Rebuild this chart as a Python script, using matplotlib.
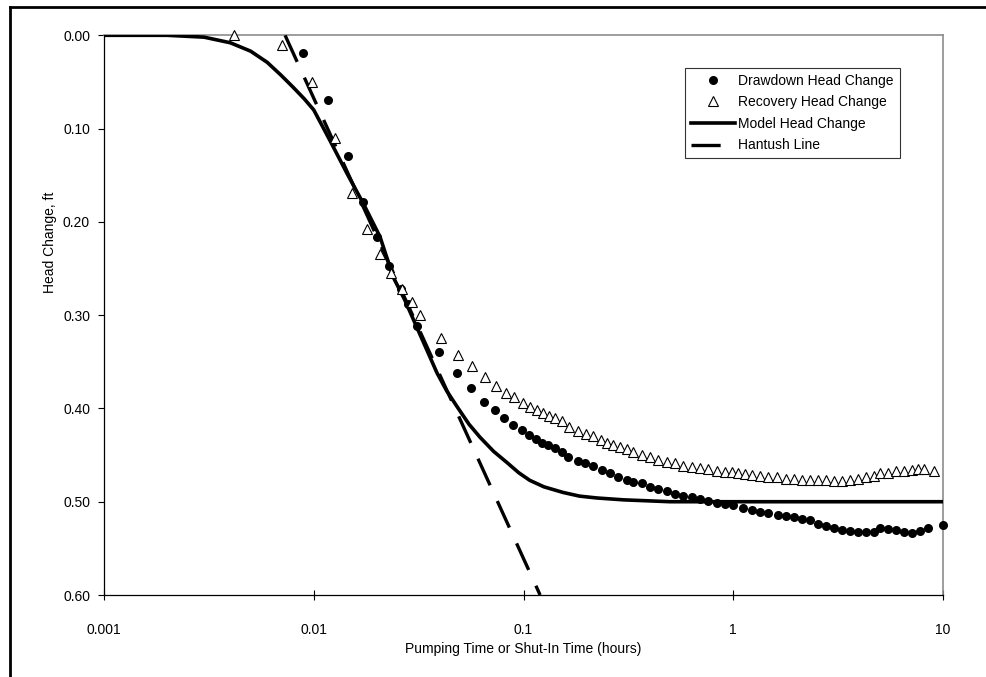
import matplotlib
matplotlib.use("Agg")
import matplotlib.pyplot as plt
from matplotlib.lines import Line2D
import numpy as np

plt.rcParams['font.family'] = ['Liberation Sans', 'DejaVu Sans']
plt.rcParams['lines.scale_dashes'] = False

# Drawdown head change (pumping time, hours)
dd_t = [0.00889, 0.01169, 0.01457, 0.01717, 0.02003, 0.02285, 0.02606, 0.02813, 0.03106, 0.03955,
        0.04819, 0.05620, 0.06482, 0.07311, 0.08072, 0.08913, 0.09835, 0.1062, 0.1147, 0.1225,
        0.1309, 0.1413, 0.1527, 0.1631, 0.1819, 0.1964, 0.2145, 0.2367, 0.2585, 0.2822, 0.3114,
        0.3326, 0.3673, 0.4010, 0.4379, 0.4831, 0.5275, 0.5760, 0.6359, 0.6942, 0.7579,
        0.8367, 0.9134, 0.9972, 1.113, 1.229, 1.341, 1.464, 1.634, 1.784, 1.948,
        2.127, 2.322, 2.536, 2.768, 3.022, 3.300, 3.603, 3.934, 4.295, 4.688,
        5.007, 5.468, 5.970, 6.518, 7.116, 7.769, 8.482, 10.0]
dd_h = [0.019, 0.069, 0.129, 0.179, 0.216, 0.247, 0.272, 0.288, 0.312, 0.339,
        0.362, 0.378, 0.393, 0.402, 0.410, 0.418, 0.423, 0.429, 0.433, 0.437,
        0.439, 0.442, 0.447, 0.452, 0.456, 0.459, 0.462, 0.466, 0.469, 0.473, 0.477,
        0.479, 0.480, 0.484, 0.486, 0.489, 0.492, 0.494, 0.495, 0.497, 0.499,
        0.501, 0.502, 0.504, 0.507, 0.509, 0.511, 0.512, 0.514, 0.515, 0.516,
        0.518, 0.520, 0.524, 0.526, 0.528, 0.530, 0.531, 0.532, 0.532, 0.532,
        0.528, 0.529, 0.530, 0.532, 0.533, 0.531, 0.528, 0.525]

# Recovery head change (shut-in time, hours)
rec_t = [0.004167, 0.007058, 0.009811, 0.01263, 0.01522, 0.01795, 0.02069, 0.02335, 0.02634, 0.02940,
         0.03211, 0.04044, 0.04871, 0.05682, 0.06553, 0.07393, 0.08252, 0.09011, 0.09945, 0.1074,
         0.1160, 0.1239, 0.1323, 0.1413, 0.1527, 0.1648, 0.1819, 0.1986, 0.2145, 0.2341,
         0.2501, 0.2672, 0.2884, 0.3114, 0.3326, 0.3673, 0.4010, 0.4379, 0.4831, 0.5275,
         0.5760, 0.6359, 0.6942, 0.7579, 0.8367, 0.9134, 0.9865, 1.053, 1.138, 1.229,
         1.341, 1.464, 1.617, 1.784, 1.948, 2.127, 2.322, 2.536, 2.768, 3.022,
         3.300, 3.603, 3.934, 4.295, 4.688, 5.007, 5.468, 5.970, 6.518, 7.116,
         7.600, 8.117, 9.06]
rec_h = [0.000, 0.010, 0.050, 0.110, 0.169, 0.208, 0.234, 0.255, 0.272, 0.286,
         0.300, 0.324, 0.343, 0.355, 0.366, 0.376, 0.383, 0.388, 0.394, 0.398,
         0.402, 0.405, 0.408, 0.410, 0.414, 0.420, 0.424, 0.427, 0.430, 0.434,
         0.437, 0.439, 0.441, 0.443, 0.447, 0.450, 0.452, 0.455, 0.457, 0.458,
         0.462, 0.463, 0.464, 0.465, 0.467, 0.468, 0.468, 0.469, 0.470, 0.471,
         0.472, 0.473, 0.473, 0.476, 0.476, 0.477, 0.477, 0.477, 0.477, 0.478,
         0.478, 0.477, 0.476, 0.474, 0.472, 0.469, 0.469, 0.467, 0.467, 0.466,
         0.465, 0.465, 0.467]

# Model head change
model_t = [0.001, 0.002, 0.003, 0.004, 0.005, 0.006, 0.007, 0.008, 0.009, 0.010,
           0.0119, 0.0144, 0.0172, 0.0207, 0.0239, 0.0272, 0.0310, 0.0387, 0.043, 0.0482,
           0.055, 0.0621, 0.072, 0.0834, 0.095, 0.107, 0.125, 0.154, 0.185, 0.224,
           0.30, 0.5, 1.0, 10.0]
model_h = [0.000, 0.000, 0.002, 0.008, 0.017, 0.029, 0.043, 0.056, 0.068, 0.080,
           0.112, 0.148, 0.180, 0.216, 0.259, 0.284, 0.313, 0.362, 0.381, 0.398,
           0.417, 0.431, 0.446, 0.458, 0.469, 0.477, 0.484, 0.490, 0.494, 0.496,
           0.498, 0.500, 0.500, 0.500]

# Hantush straight line
hant_t = [0.0073, 0.12]
hant_h = [0.0, 0.60]

W, H = 986, 677
fig = plt.figure(figsize=(W / 100, H / 100), dpi=100)
ax = fig.add_axes([104 / W, 1 - 595 / H, (943 - 104) / W, (595 - 35.3) / H])

ax.plot(model_t, model_h, color='black', lw=2.6, label='Model Head Change', zorder=3)
ax.plot(hant_t, hant_h, color='black', lw=2.4, dashes=(21, 12.5), label='Hantush Line', zorder=3)
ax.plot(dd_t, dd_h, 'o', color='black', ms=6.5, mew=0, label='Drawdown Head Change',
        zorder=4, clip_on=False)
ax.plot(rec_t, rec_h, '^', mfc='white', mec='black', ms=6.5, mew=0.8,
        label='Recovery Head Change', zorder=4, clip_on=False)

ax.set_xscale('log')
ax.set_xlim(0.001, 10)
ax.set_ylim(0.60, 0.0)
ax.set_xticks([0.001, 0.01, 0.1, 1, 10])
ax.set_xticklabels(['0.001', '0.01', '0.1', '1', '10'])
ax.set_yticks(np.arange(0, 0.61, 0.1))
ax.set_yticklabels(['%.2f' % v for v in np.arange(0, 0.61, 0.1)])
ax.minorticks_off()
ax.tick_params(axis='y', direction='out', length=4, width=0.8, pad=6, labelsize=10)
ax.tick_params(axis='x', direction='inout', length=7, width=0.8, pad=17, labelsize=10)

for s in ['left', 'bottom']:
    ax.spines[s].set_color('black')
    ax.spines[s].set_linewidth(0.9)
for s in ['top', 'right']:
    ax.spines[s].set_color('#8c8c8c')
    ax.spines[s].set_linewidth(1.2)

ax.set_xlabel('Pumping Time or Shut-In Time (hours)', fontsize=10, labelpad=3)
ax.set_ylabel('Head Change, ft', fontsize=10, labelpad=5)
ax.yaxis.set_label_coords(-0.056, 0.63)

handles, labels = ax.get_legend_handles_labels()
order = [2, 3, 0, 1]
leg = ax.legend([handles[i] for i in order], [labels[i] for i in order],
                loc='upper left', bbox_to_anchor=(685 / W, 1 - 68 / H),
                bbox_transform=fig.transFigure, fontsize=10, frameon=True,
                fancybox=False, edgecolor='black', handlelength=3.2,
                handletextpad=0.25, labelspacing=0.55, borderpad=0.4,
                borderaxespad=0, numpoints=1)
leg.get_frame().set_linewidth(0.8)

# outer chart frame
fig.add_artist(Line2D([9.5 / W, 9.5 / W], [1 - 6.5 / H, -0.05], color='black', lw=2))
fig.add_artist(Line2D([9.5 / W, 1.05], [1 - 6.5 / H, 1 - 6.5 / H], color='black', lw=2))

fig.savefig('out.png', dpi=100)
